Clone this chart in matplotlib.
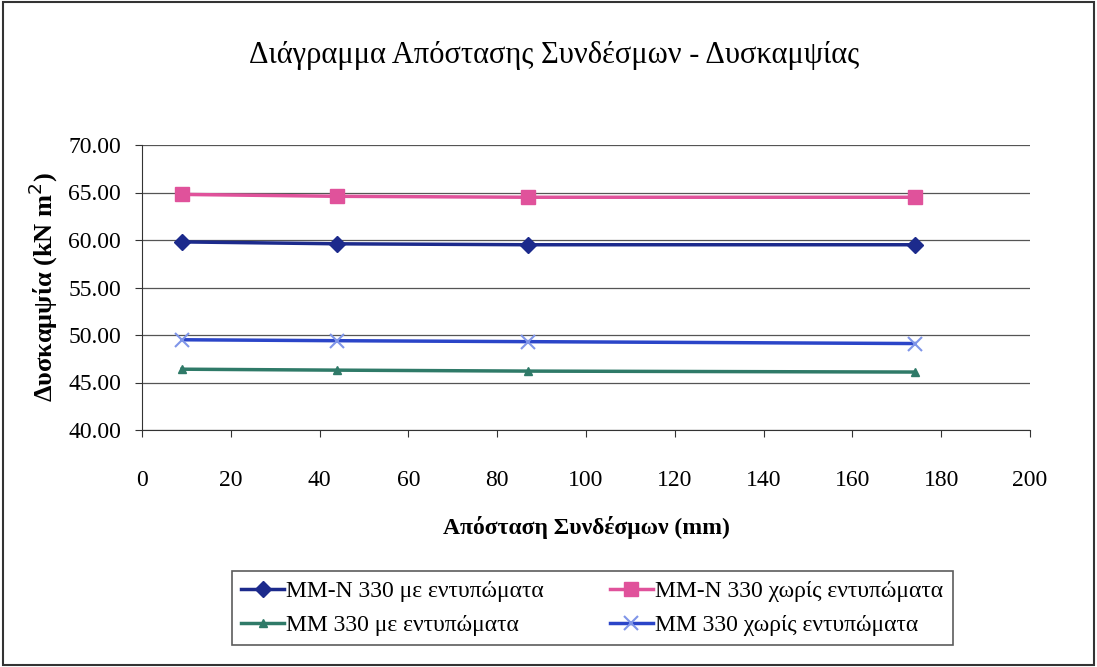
import matplotlib.pyplot as plt

plt.rcParams['font.family'] = ['Liberation Serif', 'DejaVu Serif']

# connector spacing (mm)
spacing = [9, 44, 87, 174]

# stiffness (kN m^2)
mmn_with = [59.8, 59.6, 59.5, 59.5]
mmn_without = [64.8, 64.6, 64.5, 64.5]
mm_with = [46.4, 46.3, 46.2, 46.1]
mm_without = [49.5, 49.4, 49.3, 49.1]

labels = ['MM-N 330 με εντυπώματα', 'MM-N 330 χωρίς εντυπώματα',
          'MM 330 με εντυπώματα', 'MM 330 χωρίς εντυπώματα']

fig = plt.figure(figsize=(10.97, 6.67), dpi=100)
ax = fig.add_axes([142 / 1097, 1 - 430 / 667, (1030 - 142) / 1097, (430 - 145) / 667])

l1, = ax.plot(spacing, mmn_with, color='#1c2a8c', lw=2.5, marker='D', ms=8)
l2, = ax.plot(spacing, mmn_without, color='#e0529b', lw=2.5, marker='s', ms=10)
l3, = ax.plot(spacing, mm_with, color='#2f7a68', lw=2.5, marker='^', ms=6)
l4, = ax.plot(spacing, mm_without, color='#2b45c8', lw=2.5, marker='x', ms=10,
              mec='#7f95e8', mew=1.5)

ax.set_xlim(0, 200)
ax.set_ylim(40, 70)
ax.set_xticks(range(0, 201, 20))
ax.set_yticks(range(40, 71, 5))
ax.set_yticklabels([f'{v:.2f}' for v in range(40, 71, 5)])
ax.yaxis.grid(True, color='#555555', lw=0.9)
ax.set_axisbelow(True)
ax.tick_params(labelsize=17, length=5, color='#333333')
ax.tick_params(axis='x', pad=24)
ax.tick_params(axis='y', pad=10)
for side in ['top', 'right']:
    ax.spines[side].set_visible(False)
for side in ['left', 'bottom']:
    ax.spines[side].set_color('#333333')

ax.set_ylabel('Δυσκαμψία (kN m$^2$)', fontsize=19, fontweight='bold', labelpad=6)
ax.set_xlabel('Απόσταση Συνδέσμων (mm)', fontsize=17, fontweight='bold', labelpad=18)
fig.text(0.505, 1 - 55 / 667, 'Διάγραμμα Απόστασης Συνδέσμων - Δυσκαμψίας',
         ha='center', va='center', fontsize=22)

# legend fills column-wise, so order handles to get rows like the reference
leg = ax.legend([l1, l3, l2, l4], [labels[0], labels[2], labels[1], labels[3]],
                loc='upper center', bbox_to_anchor=(0.507, -0.455), ncol=2,
                fontsize=17, frameon=True, fancybox=False, edgecolor='#333333',
                handlelength=1.8, handletextpad=0.1, columnspacing=2.8,
                borderpad=0.4, labelspacing=0.5)
leg.get_frame().set_linewidth(1.2)

# outer border of the chart
fig.add_artist(plt.Rectangle((0.003, 0.003), 0.994, 0.994, transform=fig.transFigure,
                             fill=False, ec='#333333', lw=1.5))

fig.savefig('out.png', dpi=100)
